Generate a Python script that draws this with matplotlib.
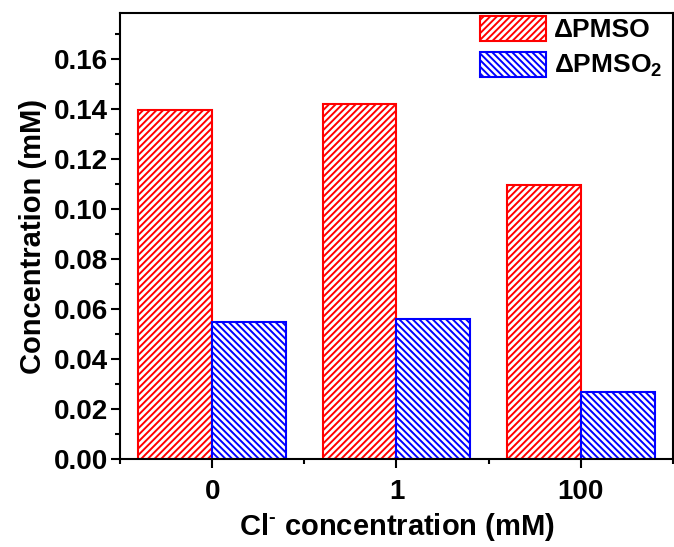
import matplotlib
matplotlib.use("Agg")
import matplotlib.pyplot as plt
import numpy as np
from matplotlib.ticker import MultipleLocator, FixedLocator

categories = ["0", "1", "100"]
pmso = [0.1396, 0.1420, 0.1095]
pmso2 = [0.0550, 0.0562, 0.0270]
series_labels = [r"ΔPMSO", r"ΔPMSO$_2$"]

plt.rcParams['font.family'] = ['Liberation Sans', 'DejaVu Sans']
plt.rcParams['font.weight'] = 'bold'
plt.rcParams['mathtext.fontset'] = 'custom'
plt.rcParams['mathtext.rm'] = 'Liberation Sans:bold'
plt.rcParams['mathtext.bf'] = 'Liberation Sans:bold'
plt.rcParams['mathtext.default'] = 'bf'
plt.rcParams['hatch.linewidth'] = 1.4

fig = plt.figure(figsize=(6.74, 5.47), dpi=100)
ax = fig.add_axes([0.178, 0.161, 0.8205, 0.815])

x = np.arange(len(categories))
w = 0.4
ax.bar(x - w/2, pmso, width=w, facecolor='white', edgecolor='#FF0000',
       hatch='/////', linewidth=1.5, label=series_labels[0])
ax.bar(x + w/2, pmso2, width=w, facecolor='white', edgecolor='#0000FF',
       hatch='\\\\\\\\\\', linewidth=1.5, label=series_labels[1])

ax.set_xlim(-0.5, 2.5)
ax.set_ylim(0, 0.1785)
ax.set_xticks(x)
ax.set_xticklabels(categories)
ax.xaxis.set_minor_locator(FixedLocator([-0.5, 0.5, 1.5, 2.5]))
ax.yaxis.set_major_locator(MultipleLocator(0.02))
ax.yaxis.set_minor_locator(MultipleLocator(0.01))
ax.yaxis.set_major_formatter(matplotlib.ticker.FormatStrFormatter('%.2f'))

for s in ax.spines.values():
    s.set_linewidth(1.5)
ax.tick_params(which='major', direction='out', length=6.5, width=1.5,
               labelsize=20)
ax.tick_params(axis='y', which='major', pad=2)
ax.tick_params(axis='x', which='major', pad=8)
ax.tick_params(which='minor', direction='out', length=3.5, width=1.5)
for lab in ax.get_xticklabels() + ax.get_yticklabels():
    lab.set_fontweight('bold')

ax.set_xlabel(r"Cl$^{\text{-}}$ concentration (mM)", fontsize=21, fontweight='bold', labelpad=4)
ax.set_ylabel("Concentration (mM)", fontsize=21, fontweight='bold', labelpad=5)

leg = ax.legend(loc='upper right', frameon=False, fontsize=19,
                handlelength=2.5, handleheight=1.1, handletextpad=0.3,
                borderaxespad=0.0, borderpad=0.1, labelspacing=0.35,
                bbox_to_anchor=(0.985, 1.0))
for t in leg.get_texts():
    t.set_fontweight('bold')

fig.savefig("out.png", dpi=100)
